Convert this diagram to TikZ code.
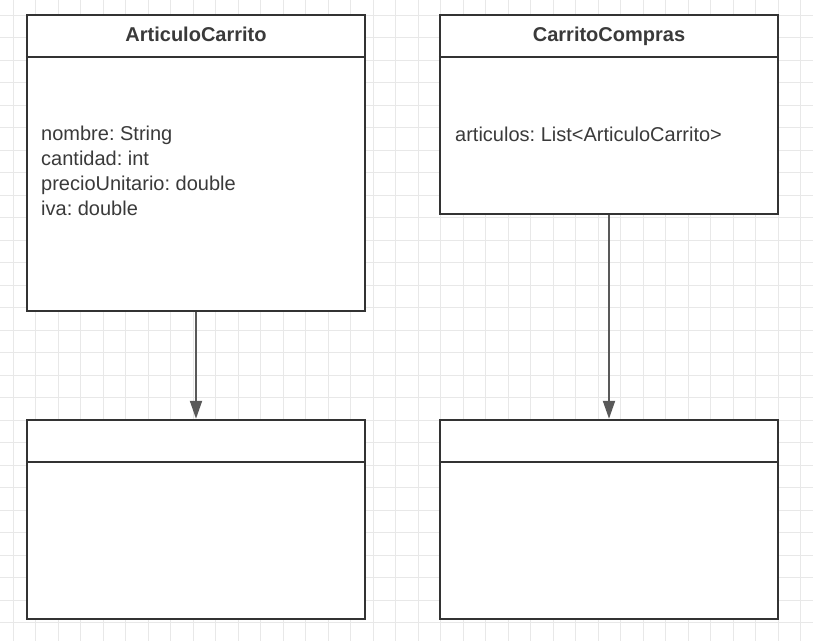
\documentclass[tikz,border=0pt]{standalone}
\usepackage{fontspec}
\setmainfont{Liberation Sans}
\usetikzlibrary{arrows.meta}
\definecolor{gridc}{HTML}{E8E8E8}
\definecolor{boxc}{HTML}{333333}
\definecolor{txtc}{HTML}{3A3A3A}
\definecolor{arrc}{HTML}{595959}
\tikzset{
  classbox/.style={draw=boxc, line width=2.5pt, fill=white, rectangle, inner sep=0pt},
  sepline/.style={draw=boxc, line width=2.5pt},
  titletext/.style={text=txtc, font=\fontsize{20}{24}\selectfont\bfseries, inner sep=0pt, anchor=base},
  attrtext/.style={text=txtc, font=\fontsize{20}{24.67}\selectfont\frenchspacing, inner sep=0pt, anchor=base west, align=left},
  assoc/.style={draw=arrc, line width=2pt, -{Triangle[length=18pt,width=12pt]}}
}
\begin{document}
\begin{tikzpicture}[x=1pt,y=-1pt]
\useasboundingbox (0,0) rectangle (813,641);
\fill[white] (0,0) rectangle (813,641);
% grid
\foreach \k in {0,...,36} {
  \draw[gridc, line width=1pt] ({13+22.5*\k},0) -- ({13+22.5*\k},641);
}
\foreach \k in {-1,...,28} {
  \draw[gridc, line width=1pt] (0,{15+22.5*\k}) -- (813,{15+22.5*\k});
}
% boxes
\node[classbox, minimum width=338pt, minimum height=296pt] (ac) at (196,163) {};
\node[classbox, minimum width=338pt, minimum height=199pt] (cc) at (609,114.5) {};
\node[classbox, minimum width=338pt, minimum height=199pt] (b1) at (196,519.5) {};
\node[classbox, minimum width=338pt, minimum height=199pt] (b2) at (609,519.5) {};
% header separators
\foreach \n in {ac,cc,b1,b2} {
  \draw[sepline] ([yshift=-43pt]\n.north west) -- ([yshift=-43pt]\n.north east);
}
% titles
\node[titletext] (act) at (196,41) {ArticuloCarrito};
\node[titletext] (cct) at (609,41) {CarritoCompras};
% attributes (base anchor = baseline of last line)
\node[attrtext] (aca) at (41,215) {nombre: String\\cantidad: int\\precioUnitario: double\\iva: double};
\node[attrtext] (cca) at (455,141) {articulos: List<ArticuloCarrito>};
% connectors
\draw[assoc] (ac.south) -- (b1.north);
\draw[assoc] (cc.south) -- (b2.north);
\end{tikzpicture}
\end{document}
